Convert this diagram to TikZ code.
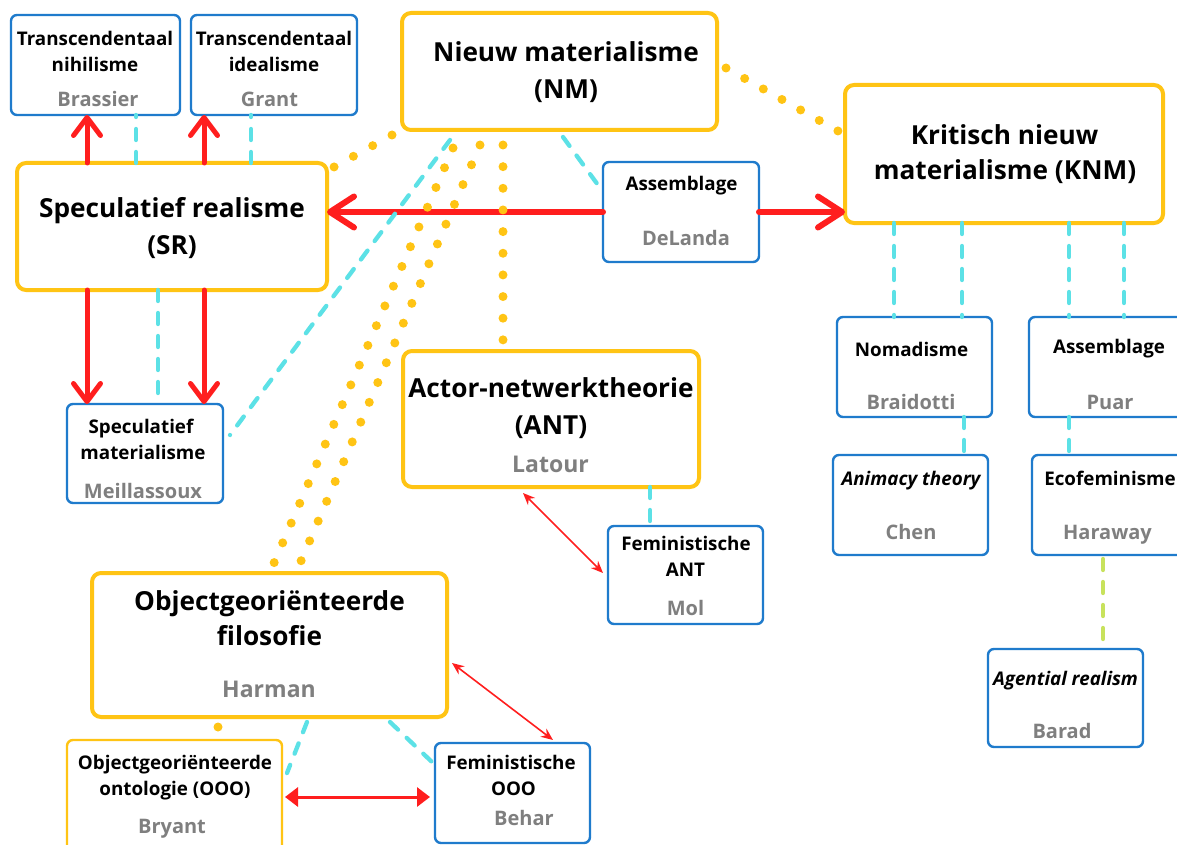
\documentclass[tikz,border=0pt]{standalone}
\usepackage{fontspec}
\setmainfont{Open Sans}
\usetikzlibrary{arrows.meta,calc}
\definecolor{myyellow}{HTML}{FFC414}
\definecolor{myblue}{HTML}{1F7BCC}
\definecolor{myred}{HTML}{FF1E1E}
\definecolor{mygrey}{HTML}{7F7F7F}
\definecolor{mycyan}{HTML}{5CE1E6}
\definecolor{mygreen}{HTML}{C8E25C}
\begin{document}
\begin{tikzpicture}[x=1pt,y=-1pt,
 bigbox/.style={draw=myyellow,line width=4pt,rounded corners=9pt,fill=white,inner sep=0pt,outer sep=0pt},
 smallbox/.style={draw=myblue,line width=2.4pt,rounded corners=6pt,fill=white,inner sep=0pt,outer sep=0pt},
 ybox/.style={draw=myyellow,line width=2.4pt,rounded corners=6pt,fill=white,inner sep=0pt,outer sep=0pt},
 txt/.style={inner sep=0pt,outer sep=0pt,text height=1.6em,text depth=0.2em},
 ttl/.style={txt,font=\fontsize{26.2}{30}\selectfont\bfseries},
 sub/.style={txt,font=\fontsize{18.8}{24}\selectfont\bfseries},
 subi/.style={txt,font=\fontsize{18.8}{24}\selectfont\bfseries\itshape},
 bname/.style={txt,font=\fontsize{23}{26}\selectfont\bfseries,text=mygrey},
 sname/.style={txt,font=\fontsize{20}{24}\selectfont\bfseries,text=mygrey},
 cyanline/.style={draw=mycyan,line width=4.3pt,line cap=round,dash pattern=on 11pt off 12pt},
 greenline/.style={draw=mygreen,line width=4.3pt,line cap=round,dash pattern=on 11pt off 12pt},
 dotline/.style={draw=myyellow,line width=9pt,line cap=round,dash pattern=on 0pt off #1pt},
 redv/.style={draw=myred,line width=5pt,line cap=round,-{Straight Barb[length=18pt,width=27pt,round]}},
 redh/.style={draw=myred,line width=6pt,line cap=round,-{Straight Barb[length=24pt,width=31pt,round]}},
 redthin/.style={draw=myred,line width=1.6pt,{Stealth[length=12pt,width=10pt]}-{Stealth[length=12pt,width=10pt]}},
 redmid/.style={draw=myred,line width=3pt,{Triangle[length=13pt,width=19pt]}-{Triangle[length=13pt,width=19pt]}}
]
\useasboundingbox (0,0) rectangle (1177,845);
\clip (0,0) rectangle (1177,845);
\fill[white] (0,0) rectangle (1177,845);

% boxes
\node[smallbox,minimum width=169pt,minimum height=100pt] (tn) at (95.5,65) {};
\node[sub] (tn1) at (95,39) {Transcendentaal};
\node[sub] (tn2) at (95,65) {nihilisme};
\node[sname] (tn3) at (98,100) {Brassier};

\node[smallbox,minimum width=166pt,minimum height=100pt] (ti) at (274,65) {};
\node[sub] (ti1) at (274,39) {Transcendentaal};
\node[sub] (ti2) at (274,65) {idealisme};
\node[sname] (ti3) at (269.5,100) {Grant};

\node[bigbox,minimum width=310pt,minimum height=127pt] (sr) at (172,226.5) {};
\node[ttl] (sr1) at (172,210) {Speculatief realisme};
\node[ttl] (sr2) at (172,247) {(SR)};

\node[smallbox,minimum width=156pt,minimum height=99pt] (sm) at (145,453.5) {};
\node[sub] (sm1) at (141,426) {Speculatief};
\node[sub] (sm2) at (143,452) {materialisme};
\node[sname] (sm3) at (143,491) {Meillassoux};

\node[bigbox,minimum width=315pt,minimum height=117pt] (nm) at (559.5,71.5) {};
\node[ttl] (nm1) at (566,55) {Nieuw materialisme};
\node[ttl] (nm2) at (566,92) {(NM)};

\node[smallbox,minimum width=156pt,minimum height=100pt] (dl) at (681,212) {};
\node[sub] (dl1) at (681.5,183) {Assemblage};
\node[sname] (dl2) at (686,238) {DeLanda};

\node[bigbox,minimum width=318pt,minimum height=138pt] (knm) at (1004,154) {};
\node[ttl] (knm1) at (1004.5,138) {Kritisch nieuw};
\node[ttl] (knm2) at (1005,173) {materialisme (KNM)};

\node[smallbox,minimum width=155pt,minimum height=100pt] (nom) at (914.5,367) {};
\node[sub] (nom1) at (911.5,349) {Nomadisme};
\node[sname] (nom2) at (911,402) {Braidotti};

\node[smallbox,minimum width=160pt,minimum height=100pt] (puar) at (1109,367) {};
\node[sub] (puar1) at (1109,346) {Assemblage};
\node[sname] (puar2) at (1110,402) {Puar};

\node[smallbox,minimum width=155pt,minimum height=100pt] (ani) at (910.5,505) {};
\node[subi] (ani1) at (911,478) {Animacy theory};
\node[sname] (ani2) at (911,532) {Chen};

\node[smallbox,minimum width=156pt,minimum height=100pt] (eco) at (1110,505) {};
\node[sub] (eco1) at (1110,478) {Ecofeminisme};
\node[sname] (eco2) at (1107.5,532) {Haraway};

\node[smallbox,minimum width=155pt,minimum height=98pt] (bar) at (1065.5,698) {};
\node[subi] (bar1) at (1065.5,678) {Agential realism};
\node[sname] (bar2) at (1062,731) {Barad};

\node[bigbox,minimum width=296pt,minimum height=136pt] (ant) at (551,419) {};
\node[ttl] (ant1) at (551,390) {Actor-netwerktheorie};
\node[ttl] (ant2) at (551,427) {(ANT)};
\node[bname] (ant3) at (550.5,465) {Latour};

\node[smallbox,minimum width=155pt,minimum height=98pt] (fant) at (685.5,575) {};
\node[sub] (fant1) at (686,543) {Feministische};
\node[sub] (fant2) at (685.5,569) {ANT};
\node[sname] (fant3) at (685.5,608) {Mol};

\node[bigbox,minimum width=355pt,minimum height=144pt] (oof) at (269.5,645) {};
\node[ttl] (oof1) at (269.5,603) {Objectgeoriënteerde};
\node[ttl] (oof2) at (269.5,638) {filosofie};
\node[bname] (oof3) at (269,690) {Harman};

\node[ybox,minimum width=215pt,minimum height=130pt] (ooo) at (174.5,805) {};
\node[sub] (ooo1) at (175,762) {Objectgeoriënteerde};
\node[sub] (ooo2) at (175,788) {ontologie (OOO)};
\node[sname] (ooo3) at (172,826) {Bryant};

\node[smallbox,minimum width=155pt,minimum height=100pt] (foo) at (512.5,793) {};
\node[sub] (foo1) at (511,762) {Feministische};
\node[sub] (foo2) at (513.5,788) {OOO};
\node[sname] (foo3) at (524,818) {Behar};

% red arrows
\draw[redv] ($(sr.north west)+(70,0)$) -- ($(tn.south west)+(76,0)$);
\draw[redv] ($(sr.north west)+(187,0)$) -- ($(ti.south west)+(13,0)$);
\draw[redv] ($(sr.south west)+(70,0)$) -- ($(sm.north west)+(20,0)$);
\draw[redv] ($(sr.south west)+(187,0)$) -- ($(sm.north west)+(137,0)$);
\draw[redh] (dl.west) -- ($(sr.north east)+(0,49)$);
\draw[redh] (dl.east) -- ($(knm.north west)+(0,127)$);
\draw[redthin] ($(ant.south west)+(120,6)$) -- ($(fant.north west)+(-5,47)$);
\draw[redthin] ($(oof.north east)+(5,90)$) -- ($(foo.north west)+(118,-3)$);
\draw[redmid] ($(ooo.north east)+(3,57)$) -- ($(foo.north west)+(-5,54)$);

% cyan dashed
\draw[cyanline] ($(sr.north west)+(119,0)$) -- ($(tn.south west)+(125,0)$);
\draw[cyanline] ($(sr.north west)+(234,0)$) -- ($(ti.south west)+(60,0)$);
\draw[cyanline] ($(sr.south west)+(141,0)$) -- ($(sm.north west)+(91,-6)$);
\draw[cyanline] ($(nm.south west)+(48,10)$) -- ($(sm.north east)+(7,31)$);
\draw[cyanline] ($(nm.south west)+(161,7)$) -- ($(dl.north west)+(-5,23)$);
\draw[cyanline] ($(knm.south west)+(49,0)$) -- ($(nom.north west)+(57,0)$);
\draw[cyanline] ($(knm.south west)+(117,0)$) -- ($(nom.north west)+(125,0)$);
\draw[cyanline] ($(knm.south west)+(224,0)$) -- ($(puar.north west)+(40,0)$);
\draw[cyanline] ($(knm.south west)+(279,0)$) -- ($(puar.north west)+(95,0)$);
\draw[cyanline] ($(nom.south west)+(127,0)$) -- ($(ani.north west)+(131,0)$);
\draw[cyanline] ($(puar.south west)+(40,0)$) -- ($(eco.north west)+(37,0)$);
\draw[cyanline] ($(ant.south west)+(247,0)$) -- ($(fant.north west)+(42,0)$);
\draw[cyanline] ($(oof.south west)+(215,5)$) -- ($(ooo.north east)+(5,33)$);
\draw[cyanline] ($(oof.south west)+(298,5)$) -- ($(foo.north west)+(-3,19)$);
\draw[greenline] ($(eco.south west)+(71,4)$) -- ($(bar.north west)+(115,-5)$);

% yellow dotted
\draw[dotline=21.4] ($(nm.north east)+(9,55)$) -- ($(knm.north west)+(-7,46)$);
\draw[dotline=22.05] ($(nm.south west)+(-10,5)$) -- ($(sr.north east)+(7,4)$);
\draw[dotline=21.5] ($(nm.south west)+(51,18)$) -- ($(oof.north west)+(182,-10)$);
\draw[dotline=21.55] ($(nm.south west)+(78,15)$) -- ($(oof.north west)+(209,-12)$);
\draw[dotline=21.65] ($(nm.south west)+(101,15)$) -- ($(ant.north west)+(100,-11)$);
\draw[dotline=20] ($(oof.south west)+(126,10)$) -- ($(ooo.north west)+(151,-3)$);
\end{tikzpicture}
\end{document}
